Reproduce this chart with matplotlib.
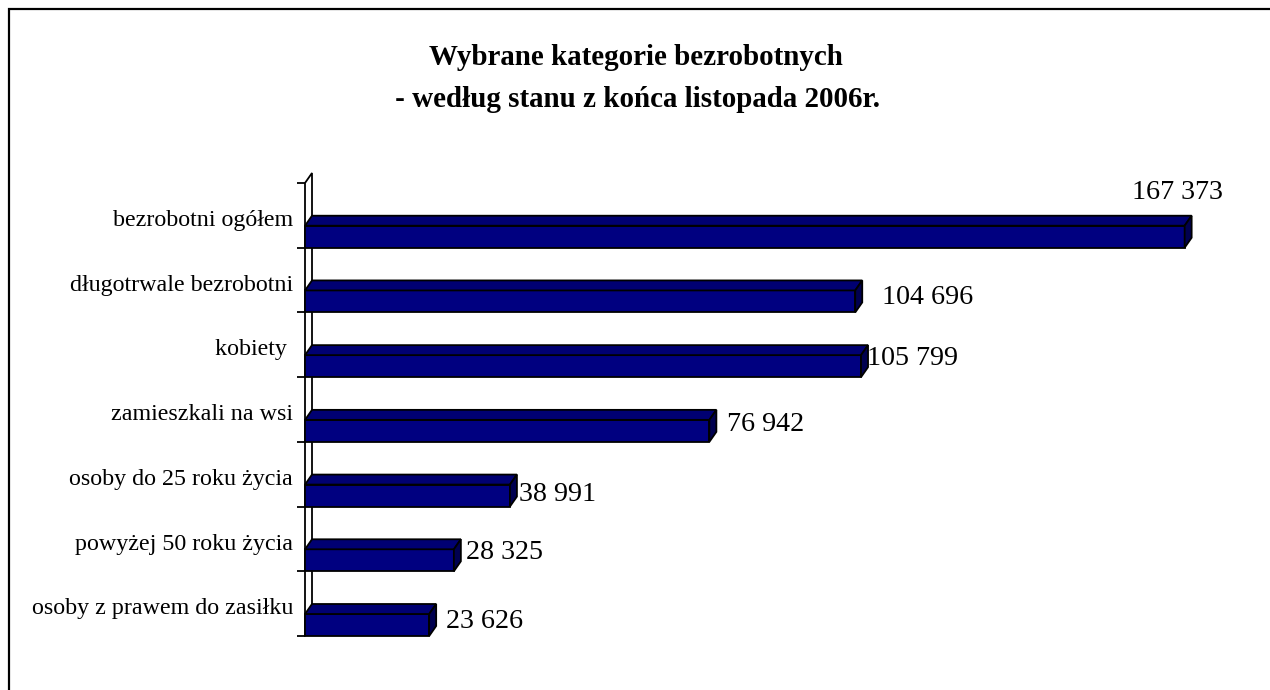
import numpy as np
import matplotlib
matplotlib.use("Agg")
import matplotlib.pyplot as plt
from matplotlib.patches import Polygon, Rectangle

plt.rcParams['font.family'] = ['Liberation Serif', 'DejaVu Serif']

# data
categories = ["bezrobotni ogółem", "długotrwale bezrobotni", "kobiety ",
              "zamieszkali na wsi", "osoby do 25 roku życia",
              "powyżej 50 roku życia", "osoby z prawem do zasiłku"]
values = [167373, 104696, 105799, 76942, 38991, 28325, 23626]
value_labels = ["167 373", "104 696", "105 799", "76 942", "38 991", "28 325", "23 626"]

# label offsets from bar end (pixels, dpi=72 so points == pixels)
lab_dx = [-7, 72, 51, 56, 48, 51, 55]
lab_dy = [44, 4, 8, 6, 1, 8, 3]

W, H = 1270, 690
fig = plt.figure(figsize=(W / 72, H / 72), dpi=72)
fig.patch.set_facecolor("white")

# axes placed in pixel terms
left, right, top, bottom = 305, 1251, 183, 636
ax = fig.add_axes([left / W, (H - bottom) / H, (right - left) / W, (bottom - top) / H])
xmax = 180000
n = len(categories)
ax.set_xlim(0, xmax)
ax.set_ylim(n, 0)

# 3d depth in pixels -> data units
dpx, dpy = 7, 10
dx = dpx * xmax / (right - left)
dy = dpy * n / (bottom - top)
bh = 22 * n / (bottom - top)

front = "#000080"
topc = "#000072"
sidec = "#000050"
ec = "black"
lw = 1.8

# back wall
wall = Polygon([(0, n), (0, 0), (dx, -dy), (dx, n - dy)], closed=True,
               facecolor="white", edgecolor=ec, lw=lw, clip_on=False, zorder=1)
ax.add_patch(wall)

for i, v in enumerate(values):
    y1 = i + 1
    y0 = y1 - bh
    ax.barh(y0 + bh / 2, v, height=bh, left=0, color=front, edgecolor=ec,
            linewidth=lw, zorder=3, clip_on=False)
    ax.add_patch(Polygon([(0, y0), (v, y0), (v + dx, y0 - dy), (dx, y0 - dy)],
                         closed=True, facecolor=topc, edgecolor=ec, lw=lw,
                         zorder=3, clip_on=False))
    ax.add_patch(Polygon([(v, y0), (v, y1), (v + dx, y1 - dy), (v + dx, y0 - dy)],
                         closed=True, facecolor=sidec, edgecolor=ec, lw=lw,
                         zorder=3, clip_on=False))
    ax.annotate(value_labels[i], (v, y0 + bh / 2), xytext=(lab_dx[i], lab_dy[i]),
                textcoords="offset points", ha="center", va="center",
                fontsize=28, annotation_clip=False)

for s in ["top", "right", "bottom", "left"]:
    ax.spines[s].set_visible(False)
ax.set_xticks([])
ax.set_yticks(np.arange(n) + 0.54)
ax.set_yticklabels(categories, fontsize=24)
ax.tick_params(axis="y", which="major", length=0, pad=12)
ax.set_yticks(np.arange(n + 1), minor=True)
ax.tick_params(axis="y", which="minor", length=8, width=lw, color="black")
ax.patch.set_alpha(0)

fig.text(636 / W, 1 - 65 / H, "Wybrane kategorie bezrobotnych",
         ha="center", va="baseline", fontsize=29, fontweight="bold")
fig.text(634 / W, 1 - 107 / H, " - według stanu z końca listopada 2006r.",
         ha="center", va="baseline", fontsize=29, fontweight="bold")

# chart border
fig.patches.append(Rectangle((9 / W, -0.1), 1.2, 1 - 9 / H + 0.1,
                             transform=fig.transFigure, fill=False,
                             edgecolor="black", lw=2.2))

fig.savefig("out.png", dpi=72)
